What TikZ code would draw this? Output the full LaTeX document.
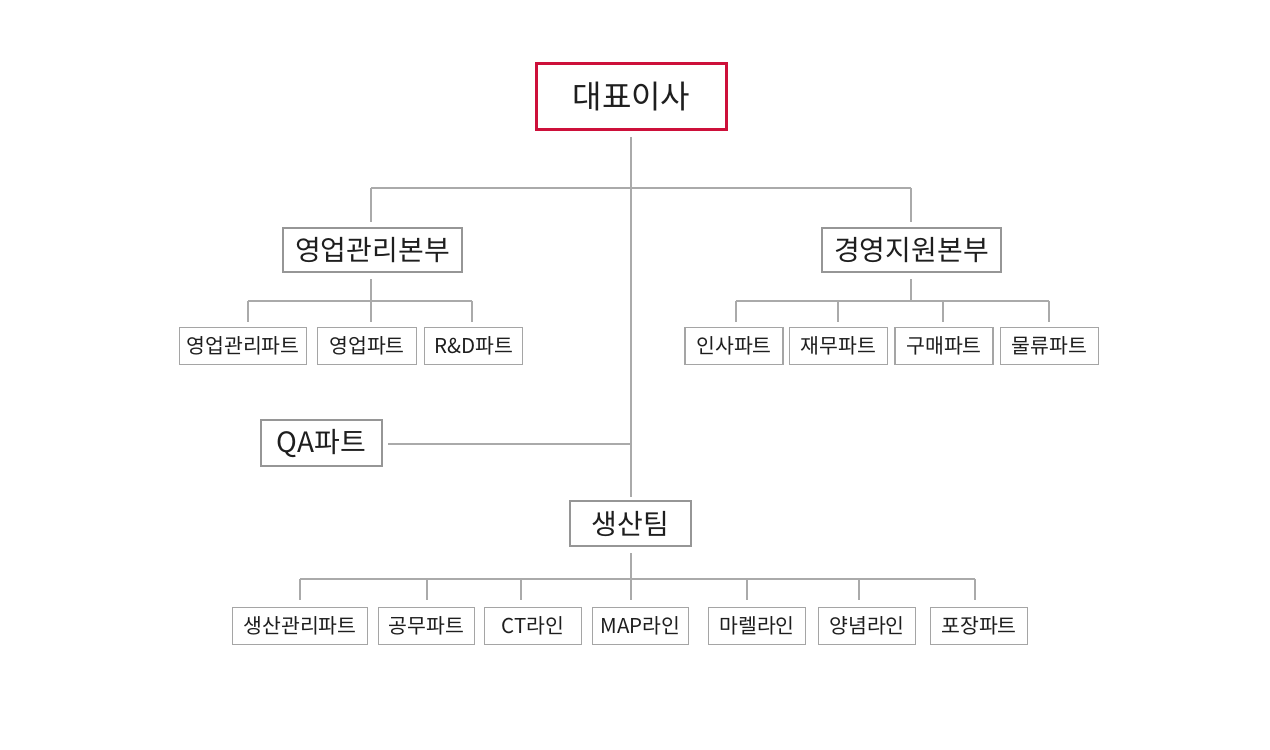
\documentclass[tikz,border=0pt]{standalone}
\usepackage{fontspec}
\setmainfont{Noto Sans CJK KR}
\definecolor{ceored}{RGB}{205,16,58}
\definecolor{boxgray}{RGB}{150,150,150}
\definecolor{smallgray}{RGB}{165,165,165}
\definecolor{linegray}{RGB}{170,170,170}
\definecolor{txt}{RGB}{30,30,30}
\begin{document}
\begin{tikzpicture}[x=1pt,y=-1pt,
  ceobox/.style={draw=ceored,line width=3pt,fill=white,text=txt,inner sep=0pt,
    minimum width=190pt,minimum height=66pt,font=\fontsize{32}{36}\selectfont},
  bigbox/.style={draw=boxgray,line width=2.4pt,fill=white,text=txt,inner sep=0pt,
    minimum height=44pt,font=\fontsize{28}{32}\selectfont},
  smallbox/.style={draw=smallgray,line width=1.3pt,fill=white,text=txt,inner sep=0pt,
    minimum height=37pt,font=\fontsize{20.5}{24}\selectfont},
  conn/.style={draw=linegray,line width=1.4pt}]
\useasboundingbox[fill=white] (0,0) rectangle (1270,750);

% nodes
\node[ceobox] (ceo) at (631.5,96.5) {대표이사};
\node[bigbox,minimum width=179pt] (sales) at (372.5,250) {영업관리본부};
\node[bigbox,minimum width=179pt] (mgmt) at (911.5,250) {경영지원본부};
\node[bigbox,minimum width=121pt,minimum height=46pt] (qa) at (321.5,443) {QA파트};
\node[bigbox,minimum width=121pt,minimum height=45pt] (prod) at (630.5,523.5) {생산팀};

\node[smallbox,minimum width=127pt] (s1) at (243,346) {영업관리파트};
\node[smallbox,minimum width=99pt] (s2) at (367,346) {영업파트};
\node[smallbox,minimum width=98pt] (s3) at (473.5,346) {R\&D파트};

\node[smallbox,minimum width=98pt] (m1) at (734,346) {인사파트};
\node[smallbox,minimum width=98pt] (m2) at (838.5,346) {재무파트};
\node[smallbox,minimum width=98pt] (m3) at (944,346) {구매파트};
\node[smallbox,minimum width=98pt] (m4) at (1049.5,346) {물류파트};

\node[smallbox,minimum width=135pt] (p1) at (300,626) {생산관리파트};
\node[smallbox,minimum width=96pt] (p2) at (426.5,626) {공무파트};
\node[smallbox,minimum width=97pt] (p3) at (533,626) {CT라인};
\node[smallbox,minimum width=96pt] (p4) at (640.5,626) {MAP라인};
\node[smallbox,minimum width=97pt] (p5) at (757,626) {마렐라인};
\node[smallbox,minimum width=97pt] (p6) at (867,626) {양념라인};
\node[smallbox,minimum width=97pt] (p7) at (979,626) {포장파트};

% bus coordinates
\coordinate (topbus) at (631,188);
\coordinate (sbus) at (371,301);
\coordinate (mbus) at (911,301);
\coordinate (pbus) at (631,579);
\coordinate (qajoin) at (631,444);

% main spine
\draw[conn] ([yshift=-6pt]ceo.south -| topbus) -- ([yshift=3pt]prod.north -| topbus);
\draw[conn] ([xshift=-1.5pt]sales.north |- topbus) -- ([xshift=-0.5pt]mgmt.north |- topbus);
\draw[conn] ([xshift=-1.5pt]sales.north |- topbus) -- ([xshift=-1.5pt,yshift=5pt]sales.north);
\draw[conn] ([xshift=-0.5pt]mgmt.north |- topbus) -- ([xshift=-0.5pt,yshift=5pt]mgmt.north);

% QA connector
\draw[conn] ([xshift=5pt]qa.east |- qajoin) -- (qajoin);

% sales subtree
\draw[conn] ([xshift=-1.5pt,yshift=-6pt]sales.south) -- (sbus);
\draw[conn] ([xshift=5pt]s1.north |- sbus) -- ([xshift=-1.5pt]s3.north |- sbus);
\draw[conn] ([xshift=5pt]s1.north |- sbus) -- ([xshift=5pt,yshift=5pt]s1.north);
\draw[conn] ([xshift=4pt]s2.north |- sbus) -- ([xshift=4pt,yshift=5pt]s2.north);
\draw[conn] ([xshift=-1.5pt]s3.north |- sbus) -- ([xshift=-1.5pt,yshift=5pt]s3.north);

% mgmt subtree
\draw[conn] ([xshift=-0.5pt,yshift=-6pt]mgmt.south) -- (mbus);
\draw[conn] ([xshift=2pt]m1.north |- mbus) -- ([xshift=-0.5pt]m4.north |- mbus);
\draw[conn] ([xshift=2pt]m1.north |- mbus) -- ([xshift=2pt,yshift=5pt]m1.north);
\draw[conn] ([xshift=-0.5pt]m2.north |- mbus) -- ([xshift=-0.5pt,yshift=5pt]m2.north);
\draw[conn] ([xshift=-1pt]m3.north |- mbus) -- ([xshift=-1pt,yshift=5pt]m3.north);
\draw[conn] ([xshift=-0.5pt]m4.north |- mbus) -- ([xshift=-0.5pt,yshift=5pt]m4.north);

% production subtree
\draw[conn] ([xshift=0.5pt,yshift=-6pt]prod.south) -- (pbus);
\draw[conn] (p1.north |- pbus) -- ([xshift=-4pt]p7.north |- pbus);
\draw[conn] (p1.north |- pbus) -- ([yshift=7pt]p1.north);
\draw[conn] ([xshift=0.5pt]p2.north |- pbus) -- ([xshift=0.5pt,yshift=7pt]p2.north);
\draw[conn] ([xshift=-12pt]p3.north |- pbus) -- ([xshift=-12pt,yshift=7pt]p3.north);
\draw[conn] ([xshift=-9.5pt]p4.north |- pbus) -- ([xshift=-9.5pt,yshift=7pt]p4.north);
\draw[conn] ([xshift=-10pt]p5.north |- pbus) -- ([xshift=-10pt,yshift=7pt]p5.north);
\draw[conn] ([xshift=-8pt]p6.north |- pbus) -- ([xshift=-8pt,yshift=7pt]p6.north);
\draw[conn] ([xshift=-4pt]p7.north |- pbus) -- ([xshift=-4pt,yshift=7pt]p7.north);
\end{tikzpicture}
\end{document}
